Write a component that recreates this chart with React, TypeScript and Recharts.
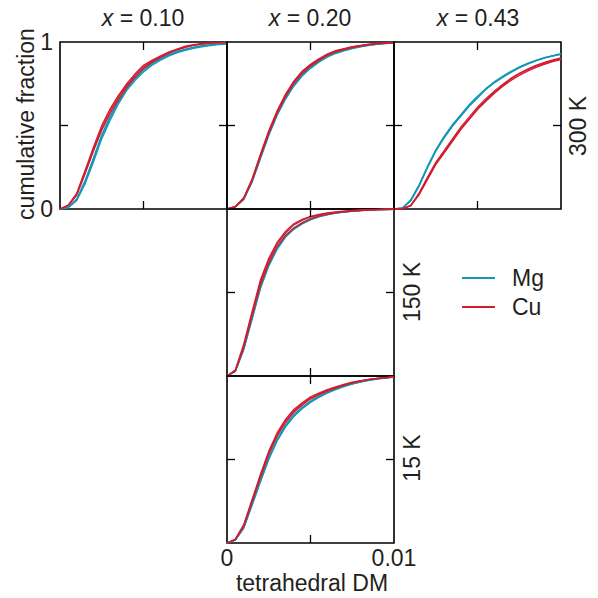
import React from 'react';
import { Line, LineChart, ReferenceArea, ReferenceLine, XAxis, YAxis } from 'recharts';

// tetrahedral DM sample points (shared by every panel)
const dmValues = [
  0, 0.0005, 0.001, 0.0015, 0.002, 0.0025, 0.003, 0.0035, 0.004, 0.0045, 0.005,
  0.0055, 0.006, 0.0065, 0.007, 0.0075, 0.008, 0.0085, 0.009, 0.0095, 0.01,
];

// x = 0.10, 300 K
const mgX10Hot = [
  [0, 0.008, 0.05, 0.15, 0.28, 0.42, 0.53, 0.63, 0.71, 0.77, 0.82, 0.86, 0.89, 0.915, 0.935, 0.95, 0.962, 0.971, 0.978, 0.984, 0.988],
  [0, 0.01, 0.055, 0.16, 0.295, 0.435, 0.545, 0.64, 0.72, 0.78, 0.83, 0.868, 0.897, 0.92, 0.94, 0.955, 0.966, 0.975, 0.982, 0.987, 0.991],
  [0, 0.009, 0.06, 0.17, 0.305, 0.445, 0.555, 0.65, 0.73, 0.79, 0.838, 0.875, 0.903, 0.925, 0.944, 0.958, 0.969, 0.978, 0.984, 0.989, 0.993],
];
const cuX10Hot = [
  [0, 0.025, 0.094, 0.23, 0.37, 0.5, 0.6, 0.68, 0.75, 0.81, 0.86, 0.89, 0.915, 0.94, 0.958, 0.975, 0.984, 0.99, 0.994, 0.996, 0.997],
  [0, 0.022, 0.088, 0.22, 0.355, 0.485, 0.585, 0.668, 0.74, 0.8, 0.85, 0.884, 0.91, 0.935, 0.955, 0.97, 0.981, 0.988, 0.993, 0.996, 0.998],
  [0, 0.02, 0.082, 0.21, 0.345, 0.472, 0.572, 0.655, 0.728, 0.79, 0.842, 0.878, 0.906, 0.931, 0.952, 0.968, 0.98, 0.988, 0.993, 0.996, 0.998],
];

// x = 0.20, 300 K
const mgX20Hot = [
  [0, 0.012, 0.058, 0.165, 0.305, 0.445, 0.565, 0.662, 0.74, 0.8, 0.845, 0.882, 0.912, 0.933, 0.949, 0.962, 0.972, 0.981, 0.987, 0.992, 0.995],
  [0, 0.012, 0.056, 0.16, 0.3, 0.44, 0.56, 0.657, 0.735, 0.796, 0.842, 0.879, 0.909, 0.931, 0.947, 0.96, 0.971, 0.98, 0.986, 0.991, 0.994],
  [0, 0.013, 0.06, 0.168, 0.31, 0.45, 0.57, 0.668, 0.745, 0.805, 0.85, 0.886, 0.915, 0.936, 0.951, 0.964, 0.974, 0.982, 0.988, 0.992, 0.995],
];
const cuX20Hot = [
  [0, 0.014, 0.064, 0.175, 0.32, 0.46, 0.58, 0.68, 0.76, 0.82, 0.86, 0.895, 0.925, 0.945, 0.958, 0.97, 0.978, 0.985, 0.99, 0.994, 0.996],
  [0, 0.015, 0.068, 0.18, 0.328, 0.468, 0.588, 0.686, 0.765, 0.825, 0.866, 0.9, 0.928, 0.948, 0.961, 0.972, 0.98, 0.987, 0.992, 0.995, 0.997],
  [0, 0.013, 0.06, 0.168, 0.312, 0.452, 0.572, 0.672, 0.752, 0.812, 0.855, 0.89, 0.92, 0.941, 0.955, 0.967, 0.976, 0.984, 0.989, 0.993, 0.996],
];

// x = 0.43, 300 K
const mgX43Hot = [
  [0, 0.005, 0.05, 0.14, 0.25, 0.35, 0.43, 0.5, 0.56, 0.62, 0.67, 0.72, 0.76, 0.79, 0.82, 0.85, 0.87, 0.89, 0.905, 0.917, 0.928],
  [0, 0.006, 0.055, 0.145, 0.255, 0.355, 0.435, 0.505, 0.565, 0.625, 0.675, 0.72, 0.76, 0.795, 0.825, 0.85, 0.872, 0.89, 0.906, 0.919, 0.93],
  [0, 0.005, 0.048, 0.135, 0.245, 0.345, 0.425, 0.495, 0.555, 0.615, 0.665, 0.715, 0.755, 0.788, 0.818, 0.845, 0.868, 0.887, 0.903, 0.916, 0.926],
];
const cuX43Hot = [
  [0, 0.002, 0.02, 0.09, 0.18, 0.27, 0.34, 0.41, 0.48, 0.54, 0.6, 0.65, 0.7, 0.74, 0.78, 0.81, 0.835, 0.855, 0.872, 0.887, 0.9],
  [0, 0.002, 0.022, 0.095, 0.19, 0.28, 0.35, 0.42, 0.49, 0.55, 0.61, 0.66, 0.705, 0.745, 0.782, 0.812, 0.838, 0.86, 0.878, 0.893, 0.905],
  [0, 0.002, 0.018, 0.085, 0.175, 0.265, 0.335, 0.405, 0.475, 0.535, 0.595, 0.645, 0.692, 0.733, 0.77, 0.8, 0.826, 0.848, 0.866, 0.882, 0.895],
];

// x = 0.20, 150 K
const mgX20Mid = [
  [0, 0.028, 0.16, 0.345, 0.53, 0.665, 0.765, 0.835, 0.882, 0.913, 0.938, 0.955, 0.967, 0.976, 0.982, 0.987, 0.991, 0.994, 0.996, 0.997, 0.998],
  [0, 0.026, 0.155, 0.338, 0.522, 0.658, 0.758, 0.83, 0.878, 0.91, 0.935, 0.953, 0.965, 0.975, 0.981, 0.986, 0.99, 0.993, 0.995, 0.997, 0.998],
  [0, 0.03, 0.165, 0.352, 0.538, 0.672, 0.772, 0.842, 0.888, 0.918, 0.942, 0.958, 0.969, 0.977, 0.983, 0.988, 0.992, 0.994, 0.996, 0.998, 0.999],
];
const cuX20Mid = [
  [0, 0.034, 0.18, 0.37, 0.56, 0.69, 0.79, 0.855, 0.905, 0.932, 0.952, 0.964, 0.973, 0.98, 0.985, 0.989, 0.992, 0.994, 0.996, 0.998, 0.999],
  [0, 0.036, 0.19, 0.385, 0.575, 0.705, 0.8, 0.865, 0.912, 0.938, 0.956, 0.967, 0.976, 0.982, 0.987, 0.991, 0.994, 0.996, 0.998, 0.999, 1],
  [0, 0.03, 0.17, 0.36, 0.545, 0.675, 0.775, 0.84, 0.885, 0.915, 0.94, 0.957, 0.968, 0.977, 0.983, 0.988, 0.991, 0.994, 0.996, 0.997, 0.998],
];

// x = 0.20, 15 K
const mgX20Cold = [
  [0, 0.018, 0.09, 0.23, 0.37, 0.505, 0.615, 0.7, 0.762, 0.808, 0.846, 0.875, 0.9, 0.92, 0.938, 0.953, 0.965, 0.975, 0.983, 0.989, 0.993],
  [0, 0.017, 0.087, 0.225, 0.365, 0.5, 0.61, 0.694, 0.757, 0.804, 0.842, 0.872, 0.897, 0.918, 0.936, 0.951, 0.964, 0.974, 0.982, 0.988, 0.993],
  [0, 0.019, 0.093, 0.235, 0.378, 0.512, 0.622, 0.706, 0.768, 0.813, 0.85, 0.879, 0.903, 0.923, 0.94, 0.955, 0.967, 0.976, 0.984, 0.989, 0.993],
];
const cuX20Cold = [
  [0, 0.024, 0.11, 0.26, 0.41, 0.55, 0.66, 0.74, 0.8, 0.84, 0.876, 0.898, 0.918, 0.935, 0.95, 0.963, 0.972, 0.98, 0.986, 0.99, 0.994],
  [0, 0.022, 0.105, 0.252, 0.4, 0.54, 0.65, 0.73, 0.79, 0.832, 0.868, 0.892, 0.913, 0.931, 0.947, 0.96, 0.97, 0.979, 0.985, 0.99, 0.994],
  [0, 0.02, 0.1, 0.245, 0.39, 0.53, 0.64, 0.72, 0.782, 0.825, 0.862, 0.887, 0.909, 0.928, 0.944, 0.958, 0.969, 0.978, 0.985, 0.99, 0.993],
];

const MG_COLOR = '#1497b8';
const CU_COLOR = '#d01c2e';
const TEXT_COLOR = '#231f20';
const FONT = '"Liberation Sans", Arial, sans-serif';
const FONT_SIZE = 23;
const SIZE = 167;
const PAD = 26;

function buildRows(mg: number[][], cu: number[][]) {
  return dmValues.map((x, i) => {
    const row: Record<string, number> = { x };
    mg.forEach((s, k) => (row[`mg${k}`] = s[i]));
    cu.forEach((s, k) => (row[`cu${k}`] = s[i]));
    return row;
  });
}

interface PanelProps {
  left: number;
  top: number;
  mg: number[][];
  cu: number[][];
  showY?: boolean;
  showX?: boolean;
}

const Panel: React.FC<PanelProps> = ({ left, top, mg, cu, showY, showX }) => {
  const data = buildRows(mg, cu);
  const yWidth = showY ? 40 : 0;
  const xHeight = showX ? 30 : 0;
  return (
    <div style={{ position: 'absolute', left: left - PAD - yWidth, top: top - PAD }}>
      <LineChart
        width={SIZE + 2 * PAD + yWidth}
        height={SIZE + 2 * PAD + xHeight}
        data={data}
        margin={{ top: PAD, right: PAD, bottom: PAD, left: PAD }}
      >
        <XAxis
          dataKey="x"
          type="number"
          domain={[0, 0.01]}
          ticks={[0, 0.01]}
          interval={0}
          hide={!showX}
          height={xHeight}
          axisLine={false}
          tickLine={false}
          tickSize={4}
          tickMargin={3}
          tickFormatter={(v: number) => (v === 0 ? '0' : String(v))}
          tick={{ fontSize: FONT_SIZE, fill: TEXT_COLOR, fontFamily: FONT }}
        />
        <YAxis
          type="number"
          domain={[0, 1]}
          ticks={[0, 1]}
          interval={0}
          hide={!showY}
          width={yWidth}
          axisLine={false}
          tickLine={false}
          tickSize={5}
          tickMargin={2}
          tick={{ fontSize: FONT_SIZE, fill: TEXT_COLOR, fontFamily: FONT }}
        />
        {mg.map((_, k) => (
          <Line
            key={`mg${k}`}
            dataKey={`mg${k}`}
            type="linear"
            stroke={MG_COLOR}
            strokeWidth={1.3}
            dot={false}
            isAnimationActive={false}
          />
        ))}
        {cu.map((_, k) => (
          <Line
            key={`cu${k}`}
            dataKey={`cu${k}`}
            type="linear"
            stroke={CU_COLOR}
            strokeWidth={1.3}
            dot={false}
            isAnimationActive={false}
          />
        ))}
        <ReferenceLine segment={[{ x: 0.005, y: 0 }, { x: 0.005, y: 0.048 }]} stroke="#000" strokeWidth={1.3} />
        <ReferenceLine segment={[{ x: 0.005, y: 1 }, { x: 0.005, y: 0.952 }]} stroke="#000" strokeWidth={1.3} />
        <ReferenceLine segment={[{ x: 0, y: 0.5 }, { x: 0.00048, y: 0.5 }]} stroke="#000" strokeWidth={1.3} />
        <ReferenceLine segment={[{ x: 0.01, y: 0.5 }, { x: 0.00952, y: 0.5 }]} stroke="#000" strokeWidth={1.3} />
        <ReferenceArea x1={0} x2={0.01} y1={0} y2={1} fill="none" stroke="#000" strokeWidth={1.6} />
      </LineChart>
    </div>
  );
};

const text = (style: React.CSSProperties): React.CSSProperties => ({
  position: 'absolute',
  fontFamily: FONT,
  fontSize: FONT_SIZE,
  color: TEXT_COLOR,
  whiteSpace: 'nowrap',
  lineHeight: 1,
  ...style,
});

const Title: React.FC<{ cx: number; value: string }> = ({ cx, value }) => (
  <div style={text({ left: cx, top: 7, transform: 'translateX(-50%)' })}>
    <i>x</i> = {value}
  </div>
);

const SideLabel: React.FC<{ cx: number; cy: number; value: string }> = ({ cx, cy, value }) => (
  <div style={text({ left: cx, top: cy, transform: 'translate(-50%, -50%) rotate(-90deg)' })}>{value}</div>
);

export default function App() {
  return (
    <div style={{ position: 'absolute', left: 0, top: 0, width: 598, height: 598, background: '#fff' }}>
      <Title cx={143} value="0.10" />
      <Title cx={310} value="0.20" />
      <Title cx={478} value="0.43" />

      <SideLabel cx={26} cy={124} value="cumulative fraction" />
      <SideLabel cx={578} cy={126} value="300 K" />
      <SideLabel cx={412} cy={292} value="150 K" />
      <SideLabel cx={412} cy={458} value="15 K" />

      <Panel left={60} top={42} mg={mgX10Hot} cu={cuX10Hot} showY />
      <Panel left={227} top={42} mg={mgX20Hot} cu={cuX20Hot} />
      <Panel left={394} top={42} mg={mgX43Hot} cu={cuX43Hot} />
      <Panel left={227} top={209} mg={mgX20Mid} cu={cuX20Mid} />
      <Panel left={227} top={376} mg={mgX20Cold} cu={cuX20Cold} showX />

      <div style={text({ left: 312, top: 572, transform: 'translateX(-50%)' })}>tetrahedral DM</div>

      <div style={{ position: 'absolute', left: 462, top: 277, width: 33, height: 2, background: MG_COLOR }} />
      <div style={text({ left: 512, top: 267 })}>Mg</div>
      <div style={{ position: 'absolute', left: 462, top: 306, width: 33, height: 2, background: CU_COLOR }} />
      <div style={text({ left: 512, top: 296 })}>Cu</div>
    </div>
  );
}
